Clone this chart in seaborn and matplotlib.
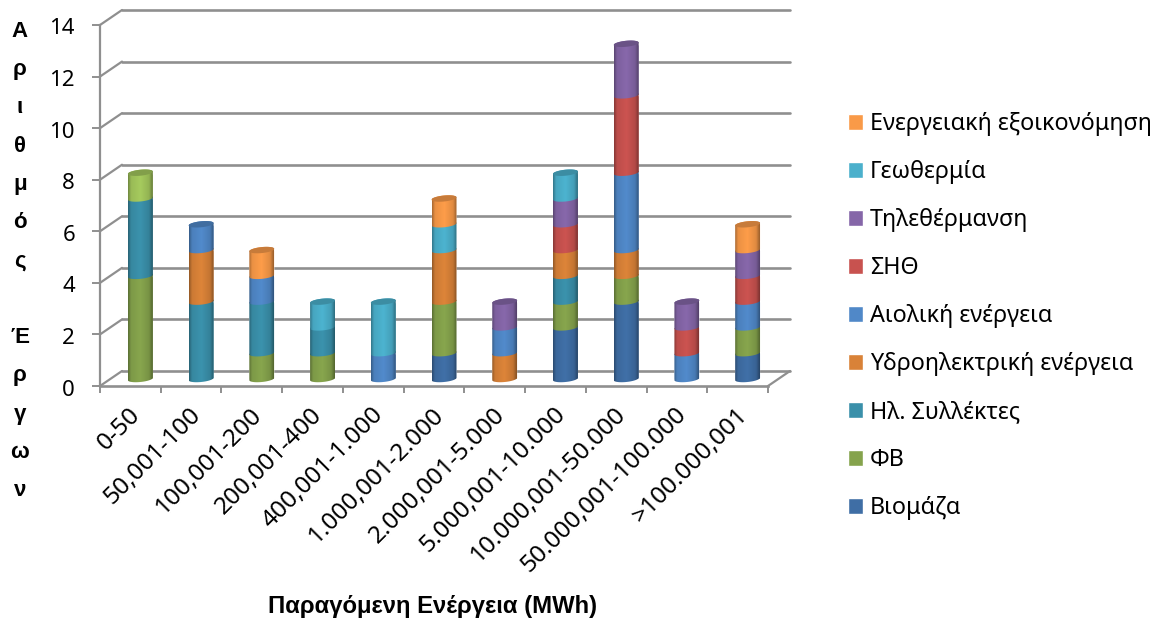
import numpy as np
import matplotlib
matplotlib.use('Agg')
import matplotlib.pyplot as plt
import seaborn as sns
from matplotlib.patches import ConnectionPatch, Patch, PathPatch
from matplotlib.path import Path
from matplotlib.transforms import IdentityTransform, ScaledTranslation

# Data
categories = ['0-50', '50,001-100', '100,001-200', '200,001-400', '400,001-1.000',
              '1.000,001-2.000', '2.000,001-5.000', '5.000,001-10.000',
              '10.000,001-50.000', '50.000,001-100.000', '>100.000,001']
viomaza = [0, 0, 0, 0, 0, 1, 0, 2, 3, 0, 1]
fv = [4, 0, 1, 1, 0, 2, 0, 1, 1, 0, 1]
syllektes = [3, 3, 2, 1, 0, 0, 0, 1, 0, 0, 0]
ydro = [0, 2, 0, 0, 0, 2, 1, 1, 1, 0, 0]
aioliki = [0, 1, 1, 0, 1, 0, 1, 0, 3, 1, 1]
sith = [0, 0, 0, 0, 0, 0, 0, 1, 3, 1, 1]
no_legend = [1, 0, 0, 0, 0, 0, 0, 0, 0, 0, 0]
tilethermansi = [0, 0, 0, 0, 0, 0, 1, 1, 2, 1, 1]
geothermia = [0, 0, 0, 1, 2, 1, 0, 1, 0, 0, 0]
exoikonomisi = [0, 0, 1, 0, 0, 1, 0, 0, 0, 0, 1]

series = [('Βιομάζα', viomaza, '#3f6ea5'),
          ('ΦΒ', fv, '#85a34c'),
          ('Ηλ. Συλλέκτες', syllektes, '#3a90aa'),
          ('Υδροηλεκτρική ενέργεια', ydro, '#d98238'),
          ('Αιολική ενέργεια', aioliki, '#5088c8'),
          ('ΣΗΘ', sith, '#c8524f'),
          ('', no_legend, '#a3c75c'),
          ('Τηλεθέρμανση', tilethermansi, '#8566a8'),
          ('Γεωθερμία', geothermia, '#4bb0cc'),
          ('Ενεργειακή εξοικονόμηση', exoikonomisi, '#f99a48')]
y_ticks = [0, 2, 4, 6, 8, 10, 12, 14]

sns.set_theme(style='white')
plt.rcParams['font.family'] = ['Noto Sans', 'DejaVu Sans']

W, H = 1162, 621
GREY = '#8f8f8f'
fig = plt.figure(figsize=(W / 100, H / 100), dpi=100)


def make_ax(dx, dy):
    # same scale for every plane, only shifted to fake the depth
    ax = fig.add_axes([(100 + dx) / W, (H - 386 + dy) / H, 668 / W, 361 / H])
    ax.set_xlim(-0.5, 10.5)
    ax.set_ylim(0, 14)
    ax.patch.set_alpha(0)
    sns.despine(ax=ax, left=True, bottom=True)
    return ax


wall = make_ax(22, 15)
front = make_ax(0, 0)
bars = make_ax(10, 7)

# back wall
wall.set_yticks(y_ticks)
wall.set_xticks([])
wall.tick_params(left=False, labelleft=False)
wall.grid(axis='y', color=GREY, lw=1.9)
wall.set_axisbelow(True)
for line in wall.get_ygridlines():
    line.set_clip_on(False)

# front frame
sns.despine(ax=front, left=False, bottom=False)
front.spines['left'].set_color(GREY)
front.spines['left'].set_linewidth(1.6)
front.spines['bottom'].set_color(GREY)
front.spines['bottom'].set_linewidth(1.9)
front.set_yticks(y_ticks)
front.set_yticklabels([str(v) for v in y_ticks])
front.tick_params(axis='y', left=True, length=6, width=1.4, color=GREY, pad=12,
                  labelsize=16, labelcolor='black')
for lab in front.get_yticklabels():
    lab.set_transform(lab.get_transform() + ScaledTranslation(0, -1.5, IdentityTransform()))
front.set_xticks(np.arange(-0.5, 11))
front.set_xticklabels([])
front.set_xticks(np.arange(11), minor=True)
front.set_xticklabels(categories, minor=True)
front.tick_params(axis='x', which='major', bottom=True, length=5, width=1.4, color=GREY)
front.tick_params(axis='x', which='minor', bottom=False, length=0, labelsize=17.6,
                  labelcolor='black', pad=12)
shift = ScaledTranslation(-2, 0, IdentityTransform())
for lab in front.get_xticklabels(minor=True):
    lab.set_rotation(45)
    lab.set_ha('right')
    lab.set_va('top')
    lab.set_rotation_mode('anchor')
    lab.set_transform(lab.get_transform() + shift)

# side wall links between the front plane and the back wall
for v in y_ticks:
    fig.add_artist(ConnectionPatch((0, v), (0, v), front.get_yaxis_transform(), wall.get_yaxis_transform(),
                                   color=GREY, lw=1.6))
fig.add_artist(ConnectionPatch((1, 0), (1, 0), front.get_yaxis_transform(), wall.get_yaxis_transform(),
                               color=GREY, lw=1.6))

# cylinders
shade = np.interp(np.linspace(0, 1, 64), [0, 0.12, 0.5, 0.85, 1], [0.68, 0.94, 1.02, 0.9, 0.62])
b = 3.0 * 14 / 361
tilt = 1.2 * 14 / 361
lower = np.linspace(np.pi, 2 * np.pi, 30)
upper = np.linspace(0, np.pi, 30)
bottom = np.zeros(len(categories))
tops = {}
for k, (name, values, color) in enumerate(series):
    n = len(bars.patches)
    sns.barplot(x=categories, y=values, bottom=bottom, color=color, saturation=1, width=0.41,
                errorbar=None, ax=bars, zorder=2)
    rgb = np.array(matplotlib.colors.to_rgb(color))
    img = np.clip(shade[None, :, None] * rgb[None, None, :], 0, 1)
    for rect in bars.patches[n:]:
        if rect.get_height() == 0:
            continue
        w = rect.get_width() / 2
        cx = rect.get_x() + w
        y0, y1 = rect.get_y(), rect.get_y() + rect.get_height()
        pts = [(cx + w * np.cos(t), y0 + b * np.sin(t) + tilt * np.cos(t)) for t in lower]
        pts += [(cx + w * np.cos(t), y1 + b * np.sin(t) + tilt * np.cos(t)) for t in upper]
        clip = PathPatch(Path(pts + pts[:1], closed=True), transform=bars.transData)
        rect.set_clip_path(clip)
        im = bars.imshow(img, extent=(cx - w, cx + w, y0 - 2 * b, y1 + 2 * b), aspect='auto',
                         interpolation='bilinear', zorder=3 + k)
        im.set_clip_box(fig.bbox)
        im.set_clip_path(clip)
        tops[cx] = (cx, w, y1, rgb)
    bottom = bottom + np.array(values)

# top caps, a bit darker than the segment below
for cx, w, y1, rgb in tops.values():
    t = np.linspace(0, 2 * np.pi, 60)
    cap = np.column_stack([cx + w * np.cos(t), y1 + b * np.sin(t) + tilt * np.cos(t)])
    bars.add_patch(PathPatch(Path(cap, closed=True), facecolor=rgb * 0.8, edgecolor='none', zorder=20))
bars.set_xlim(-0.5, 10.5)
bars.set_ylim(0, 14)
bars.set_xticks([])
bars.set_yticks([])
bars.set_xlabel('')

# axis titles
fig.text(20 / W, 1 - 261 / H, 'Α\nρ\nι\nθ\nμ\nό\nς\n\nΈ\nρ\nγ\nω\nν', ha='center', va='center',
         family='Liberation Sans', fontsize=16, fontweight='bold', color='black', linespacing=2.08)
fig.text(433 / W, 1 - 607 / H, 'Παραγόμενη Ενέργεια (MWh)', ha='center', va='center',
         family='Liberation Sans', fontsize=17.2, fontweight='bold', color='black')

# legend, no entry for the unnamed series
handles = [Patch(facecolor=c, label=n) for n, v, c in reversed(series) if n]
fig.legend(handles=handles, loc='upper left', bbox_to_anchor=(841 / W, 1 - 105 / H), frameon=False,
           fontsize=16.8, handlelength=0.64, handleheight=0.64, handletextpad=0.3, labelspacing=1.03,
           borderpad=0.3, borderaxespad=0, labelcolor='black')

plt.savefig('out.png', dpi=100)
